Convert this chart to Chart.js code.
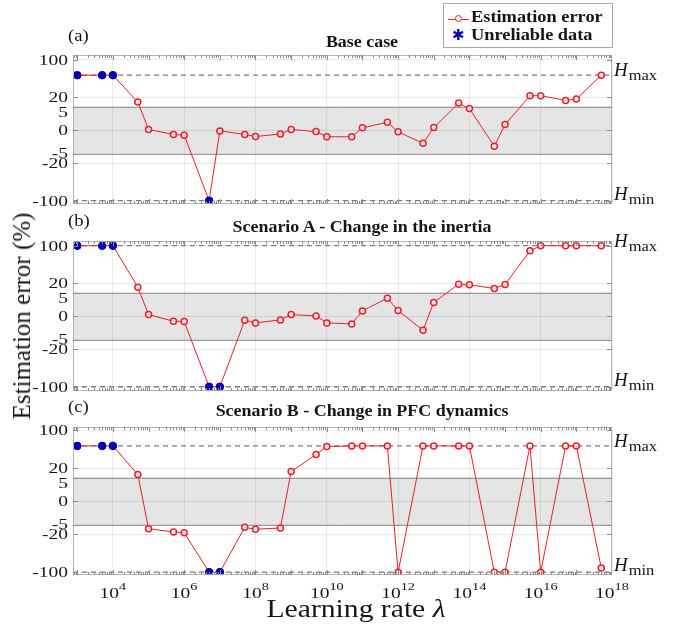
<!DOCTYPE html>
<html>
<head>
<meta charset="utf-8">
<script src="https://cdn.jsdelivr.net/npm/chart.js@4"></script>
<style>
body { margin: 0; background: #fff; }
#wrap { position: relative; width: 676px; height: 624px; overflow: hidden; font-family: "Liberation Serif", serif; color: #151515; }
canvas { position: absolute; left: 0; }
.txt { position: absolute; white-space: nowrap; }
.title { font-weight: bold; font-size: 16px; transform: translateX(-50%) scaleX(1.12); }
.letter { font-size: 17px; transform-origin: left; transform: scaleX(1.1); }
#legend { position: absolute; left: 443px; top: 3px; width: 168px; height: 43px; border: 1px solid #a8a8a8; background: #fff; }
#legend .row { position: absolute; left: 27px; font-size: 17px; font-weight: bold; transform-origin: left; transform: scaleX(1.08); }
#ylabel { position: absolute; left: 22px; top: 316px; font-size: 25px; transform: translate(-50%, -50%) rotate(-90deg); white-space: nowrap; }
#xlabel { position: absolute; left: 356px; top: 594px; font-size: 26px; transform: translateX(-50%) scaleX(1.14); white-space: nowrap; }
</style>
</head>
<body>
<div id="wrap">
    <canvas id="chartA" width="676" height="215" style="top:0px"></canvas>
    <canvas id="chartB" width="676" height="180" style="top:220px"></canvas>
    <canvas id="chartC" width="676" height="219" style="top:405px"></canvas>

    <div class="txt letter" style="left:68px;top:26px">(a)</div>
    <div class="txt letter" style="left:68px;top:211px">(b)</div>
    <div class="txt letter" style="left:68px;top:397px">(c)</div>

    <div class="txt title" style="left:362px;top:33px">Base case</div>
    <div class="txt title" style="left:362px;top:218px">Scenario A - Change in the inertia</div>
    <div class="txt title" style="left:362px;top:402px">Scenario B - Change in PFC dynamics</div>

    <div id="legend">
        <span style="position:absolute;left:4px;top:15px;width:21px;border-top:1.5px solid #e8202a"></span>
        <span style="position:absolute;left:11px;top:11px;width:5px;height:5px;border:1.5px solid #e8202a;border-radius:50%;background:#fff"></span>
        <span style="position:absolute;left:8px;top:22px;font-size:15px;color:#0000b4;font-family:'DejaVu Sans'">✱</span>
        <div class="row" style="top:3px">Estimation error</div>
        <div class="row" style="top:21px">Unreliable data</div>
    </div>

    <div id="ylabel">Estimation error (%)</div>
    <div id="xlabel">Learning rate <i>λ</i></div>
</div>

<script>
// learning rates (x), one value per point
const lambdas = [1e3, 5e3, 1e4, 5e4, 1e5, 5e5, 1e6, 5e6, 1e7, 5e7,
                 1e8, 5e8, 1e9, 5e9, 1e10, 5e10, 1e11, 5e11, 1e12, 5e12,
                 1e13, 5e13, 1e14, 5e14, 1e15, 5e15, 1e16, 5e16, 1e17, 5e17];

// estimation error (%) per panel
const errBase = [67, 67, 67, 12.4, 0.15, -0.9, -1.05, -100, -0.15, -0.9,
                 -1.35, -0.8, 0.15, -0.3, -1.4, -1.4, 0.5, 1.7, -0.35, -2.8,
                 0.55, 10.8, 4.6, -3.4, 1.2, 23.4, 23.4, 15, 17.2, 67];
const errInertia = [100, 100, 100, 13.9, 0.35, -1.07, -1.13, -100, -100, -0.85,
                    -1.42, -0.78, 0.35, 0.07, -1.42, -1.63, 1.13, 3.84, 1.2, -2.98,
                    2.92, 18.7, 17.6, 11.8, 18.1, 89, 100, 100, 100, 100];
const errPFC = [67, 67, 67, 9.8, -11, -16.3, -17.4, -100, -100, -8.9,
                -12, -9.9, 14.5, 48.7, 65.7, 67, 67, 67, -100, 67,
                67, 67, 67, -100, -100, 67, -100, 67, 67, -91];

// learning rates flagged as unreliable
const unreliableBase = [1e3, 5e3, 1e4, 5e6];
const unreliableInertia = [1e3, 5e3, 1e4, 5e6, 1e7];
const unreliablePFC = [1e3, 5e3, 1e4, 5e6, 1e7];

// H limits
const hMaxBase = 67;
const hMaxInertia = 100;
const hMaxPFC = 67;
const hMin = -100;

// axis ticks
const yTickValues = [-100, -20, -5, 0, 5, 20, 100];
const yTickLabels = ["-100", "-20", "-5", "0", "5", "20", "100"];
const xTickExps = [4, 6, 8, 10, 12, 14, 16, 18];
const xMin = 760;
const xMax = 1e18;

const RED = "#e8202a";
const BLUE = "#0000b4";
const TXT = "#151515";
const STRETCH = 1.3; // reference text is wider than tall

// piecewise axis: linear in [-5,5], compressed outside
function tr(v) {
    const a = Math.abs(v), s = Math.sign(v);
    let t;
    if (a <= 5) t = a;
    else if (a <= 20) t = 5 + (a - 5) * 2 / 15;
    else t = 7 + (a - 20) * 0.1;
    return s * t;
}

function wideText(ctx, str, x, y, align, sx) {
    ctx.save();
    ctx.translate(x, y);
    ctx.scale(sx, 1);
    ctx.textAlign = align;
    ctx.fillText(str, 0, 0);
    ctx.restore();
}

function drawH(ctx, x, y, sub) {
    ctx.fillStyle = TXT;
    ctx.textBaseline = "alphabetic";
    ctx.font = 'italic 18px "Liberation Serif"';
    wideText(ctx, "H", x, y + 1, "left", 1.05);
    const w = ctx.measureText("H").width * 1.05;
    ctx.font = '15px "Liberation Serif"';
    wideText(ctx, sub, x + w + 1, y + 5, "left", 1.1);
}

const decor = {
    id: "decor",
    beforeDraw(chart) {
        const { ctx, chartArea: a, scales: { y } } = chart;
        const t = y.getPixelForValue(tr(5)), b = y.getPixelForValue(tr(-5));
        ctx.save();
        ctx.fillStyle = "#e5e5e5";
        ctx.fillRect(a.left, t, a.right - a.left, b - t);
        ctx.restore();
    },
    beforeDatasetsDraw(chart) {
        const { ctx, chartArea: a, scales: { y } } = chart;
        ctx.save();
        ctx.strokeStyle = "#9a9a9a";
        ctx.lineWidth = 1;
        [5, -5].forEach(v => {
            const py = Math.round(y.getPixelForValue(tr(v))) + 0.5;
            ctx.beginPath();
            ctx.moveTo(a.left, py);
            ctx.lineTo(a.right, py);
            ctx.stroke();
        });
        ctx.restore();
    },
    afterDraw(chart, args, o) {
        const { ctx, chartArea: a, scales: { x, y } } = chart;
        ctx.save();
        // axes box
        ctx.strokeStyle = "#b4b4b4";
        ctx.lineWidth = 1;
        ctx.strokeRect(Math.round(a.left) + 0.5, Math.round(a.top) + 0.5,
            Math.round(a.right - a.left) - 1, Math.round(a.bottom - a.top) - 1);
        // log ticks on top and bottom
        ctx.strokeStyle = "#8c8c8c";
        ctx.beginPath();
        for (let e = 2; e <= 17; e++) {
            for (let m = 1; m <= 9; m++) {
                const v = m * Math.pow(10, e);
                if (v < x.min || v > x.max) continue;
                const px = Math.round(x.getPixelForValue(v)) + 0.5;
                const len = m === 1 ? 5 : 3;
                ctx.moveTo(px, a.top);
                ctx.lineTo(px, a.top + len);
                ctx.moveTo(px, a.bottom);
                ctx.lineTo(px, a.bottom - len);
            }
        }
        // y ticks on both sides
        yTickValues.forEach(v => {
            const py = Math.round(y.getPixelForValue(tr(v))) + 0.5;
            ctx.moveTo(a.left, py);
            ctx.lineTo(a.left + 5, py);
            ctx.moveTo(a.right, py);
            ctx.lineTo(a.right - 5, py);
        });
        ctx.stroke();

        // y tick labels ("5" sits a little lower, as in the source figure)
        ctx.fillStyle = TXT;
        ctx.font = '15px "Liberation Serif"';
        ctx.textBaseline = "middle";
        yTickValues.forEach((v, i) => {
            let nudge = 0;
            if (v === 5) nudge = 5;
            if (v === -5) nudge = -1;
            wideText(ctx, yTickLabels[i], a.left - 5, y.getPixelForValue(tr(v)) + 1 + nudge, "right", STRETCH);
        });

        drawH(ctx, a.right + 2, y.getPixelForValue(tr(o.hMax)), "max");
        drawH(ctx, a.right + 2, y.getPixelForValue(tr(hMin)) - 2, "min");

        if (o.showX) {
            ctx.fillStyle = TXT;
            ctx.textBaseline = "alphabetic";
            xTickExps.forEach(e => {
                const px = x.getPixelForValue(Math.pow(10, e));
                ctx.font = '15px "Liberation Serif"';
                const wb = ctx.measureText("10").width * STRETCH;
                ctx.font = '11px "Liberation Serif"';
                const we = ctx.measureText(String(e)).width * STRETCH;
                const left = px - (wb + we) / 2;
                ctx.font = '15px "Liberation Serif"';
                wideText(ctx, "10", left, a.bottom + 23, "left", STRETCH);
                ctx.font = '11px "Liberation Serif"';
                wideText(ctx, String(e), left + wb, a.bottom + 15, "left", STRETCH);
            });
        }
        ctx.restore();
    }
};

function makePanel(id, values, unreliable, hMax, yMin, yMax, pad, showX) {
    const main = lambdas.map((l, i) => ({ x: l, y: tr(values[i]) }));
    const bad = unreliable.map(l => ({ x: l, y: tr(values[lambdas.indexOf(l)]) }));
    const dashed = v => ({
        data: [{ x: xMin, y: tr(v) }, { x: xMax, y: tr(v) }],
        borderColor: "#7d7d7d",
        borderWidth: 1.3,
        borderDash: [5, 4],
        pointRadius: 0,
        order: 3
    });
    return new Chart(document.getElementById(id), {
        type: "line",
        data: {
            datasets: [
                {
                    data: bad,
                    showLine: false,
                    pointRadius: 3.8,
                    pointBackgroundColor: BLUE,
                    pointBorderColor: BLUE,
                    pointBorderWidth: 1,
                    order: 0
                },
                {
                    data: main,
                    borderColor: RED,
                    borderWidth: 1,
                    pointRadius: 3,
                    pointBorderWidth: 1.5,
                    pointBorderColor: RED,
                    pointBackgroundColor: "rgba(255,255,255,0.7)",
                    order: 1
                },
                dashed(hMax),
                dashed(hMin)
            ]
        },
        options: {
            responsive: false,
            animation: false,
            devicePixelRatio: 1,
            layout: { padding: { left: 0, right: 64, top: pad[0], bottom: pad[1] } },
            plugins: {
                legend: { display: false },
                tooltip: { enabled: false },
                decor: { hMax: hMax, showX: showX }
            },
            scales: {
                x: {
                    type: "logarithmic",
                    min: xMin,
                    max: xMax,
                    afterBuildTicks: s => { s.ticks = xTickExps.map(e => ({ value: Math.pow(10, e) })); },
                    afterFit: s => { s.height = 0; },
                    ticks: { display: false },
                    grid: { color: "rgba(0,0,0,0.08)", drawTicks: false },
                    border: { display: false }
                },
                y: {
                    min: yMin,
                    max: yMax,
                    afterBuildTicks: s => { s.ticks = yTickValues.map(v => ({ value: tr(v) })); },
                    afterFit: s => { s.width = 73; },
                    ticks: { display: false },
                    grid: { color: "rgba(0,0,0,0.09)", drawTicks: false },
                    border: { display: false }
                }
            }
        },
        plugins: [decor]
    });
}

makePanel("chartA", errBase, unreliableBase, hMaxBase, -15.7, 16.0, [55, 11], false);
makePanel("chartB", errInertia, unreliableInertia, hMaxInertia, -15.9, 16.0, [21, 9], false);
makePanel("chartC", errPFC, unreliablePFC, hMaxPFC, -15.6, 15.7, [22, 49], true);
</script>
</body>
</html>
